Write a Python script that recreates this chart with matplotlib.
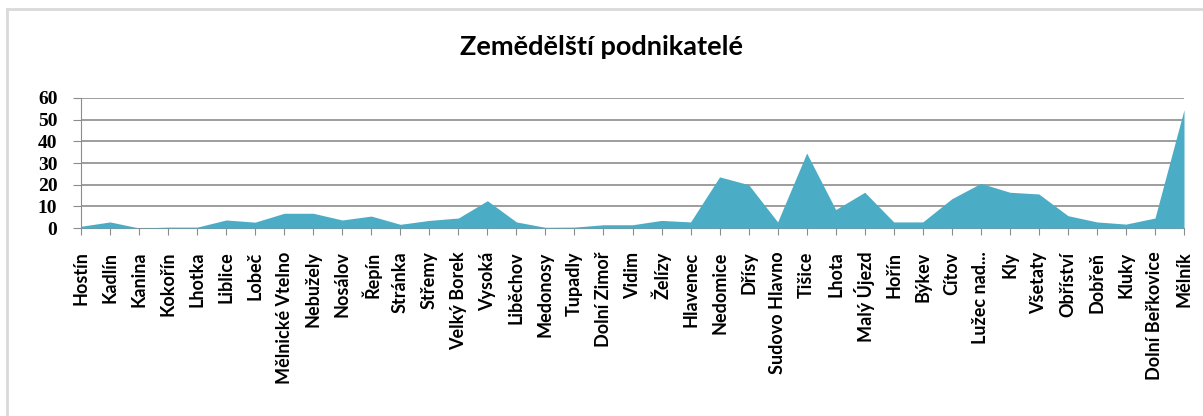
import matplotlib
matplotlib.use("Agg")
import matplotlib.pyplot as plt
from matplotlib.lines import Line2D

# Data
obce = ["Hostín", "Kadlín", "Kanina", "Kokořín", "Lhotka", "Liblice", "Lobeč",
        "Mělnické Vtelno", "Nebužely", "Nosálov", "Řepín", "Stránka", "Střemy",
        "Velký Borek", "Vysoká", "Liběchov", "Medonosy", "Tupadly", "Dolní Zimoř",
        "Vidim", "Želízy", "Hlavenec", "Nedomice", "Dřísy", "Sudovo Hlavno",
        "Tišice", "Lhota", "Malý Újezd", "Hořín", "Býkev", "Cítov", "Lužec nad...",
        "Kly", "Všetaty", "Obříství", "Dobřeň", "Kluky", "Dolní Beřkovice", "Mělník"]
podnikatele = [0.8, 2.8, 0, 0.4, 0.4, 3.7, 2.7, 6.8, 6.8, 3.7, 5.5, 1.7, 3.5,
               4.6, 12.6, 2.8, 0.3, 0.4, 1.5, 1.5, 3.5, 2.8, 23.6, 20, 2.8,
               34.6, 8.5, 16.5, 2.8, 2.8, 13.5, 20.6, 16.5, 15.7, 5.7, 2.8, 1.8,
               4.6, 54.6]
y_ticks = [0, 10, 20, 30, 40, 50, 60]

fig = plt.figure(figsize=(12.03, 4.16), dpi=100)
ax = fig.add_axes([81 / 1203, 1 - 228 / 416, (1184 - 81) / 1203, 130 / 416])

x = list(range(len(obce)))
ax.fill_between(x, podnikatele, 0, color="#4BACC6", linewidth=0, zorder=3)

ax.set_xlim(0, len(obce) - 1)
ax.set_ylim(0, 60)
ax.set_yticks(y_ticks)
for t in y_ticks[1:]:
    ax.axhline(t, color="#8c8c8c", linewidth=1.2, zorder=1)

ax.set_xticks(x)
ax.set_xticklabels(obce, rotation=90, fontfamily="Lato", fontweight="bold",
                   fontsize=13)
ax.tick_params(axis="x", length=5, color="#8c8c8c", pad=12)
ax.tick_params(axis="y", length=6, color="#8c8c8c", pad=11)
for lab in ax.get_yticklabels():
    lab.set_fontfamily("Liberation Serif")
    lab.set_fontweight("bold")
    lab.set_fontsize(14)

for s in ["top", "right"]:
    ax.spines[s].set_visible(False)
ax.spines["left"].set_color("#8c8c8c")
ax.spines["bottom"].set_color("#8c8c8c")
ax.spines["left"].set_zorder(4)

fig.text(0.5, 1 - 47 / 416, "Zemědělští podnikatelé", ha="center", va="center",
         fontfamily="Lato", fontweight="bold", fontsize=19.5)

# outer frame (left and top visible)
fig.add_artist(Line2D([7 / 1203, 7 / 1203], [0, 1 - 9 / 416], color="#d9d9d9",
                      linewidth=2, transform=fig.transFigure))
fig.add_artist(Line2D([7 / 1203, 1], [1 - 9 / 416, 1 - 9 / 416], color="#d9d9d9",
                      linewidth=2, transform=fig.transFigure))

fig.savefig("out.png", dpi=100)
